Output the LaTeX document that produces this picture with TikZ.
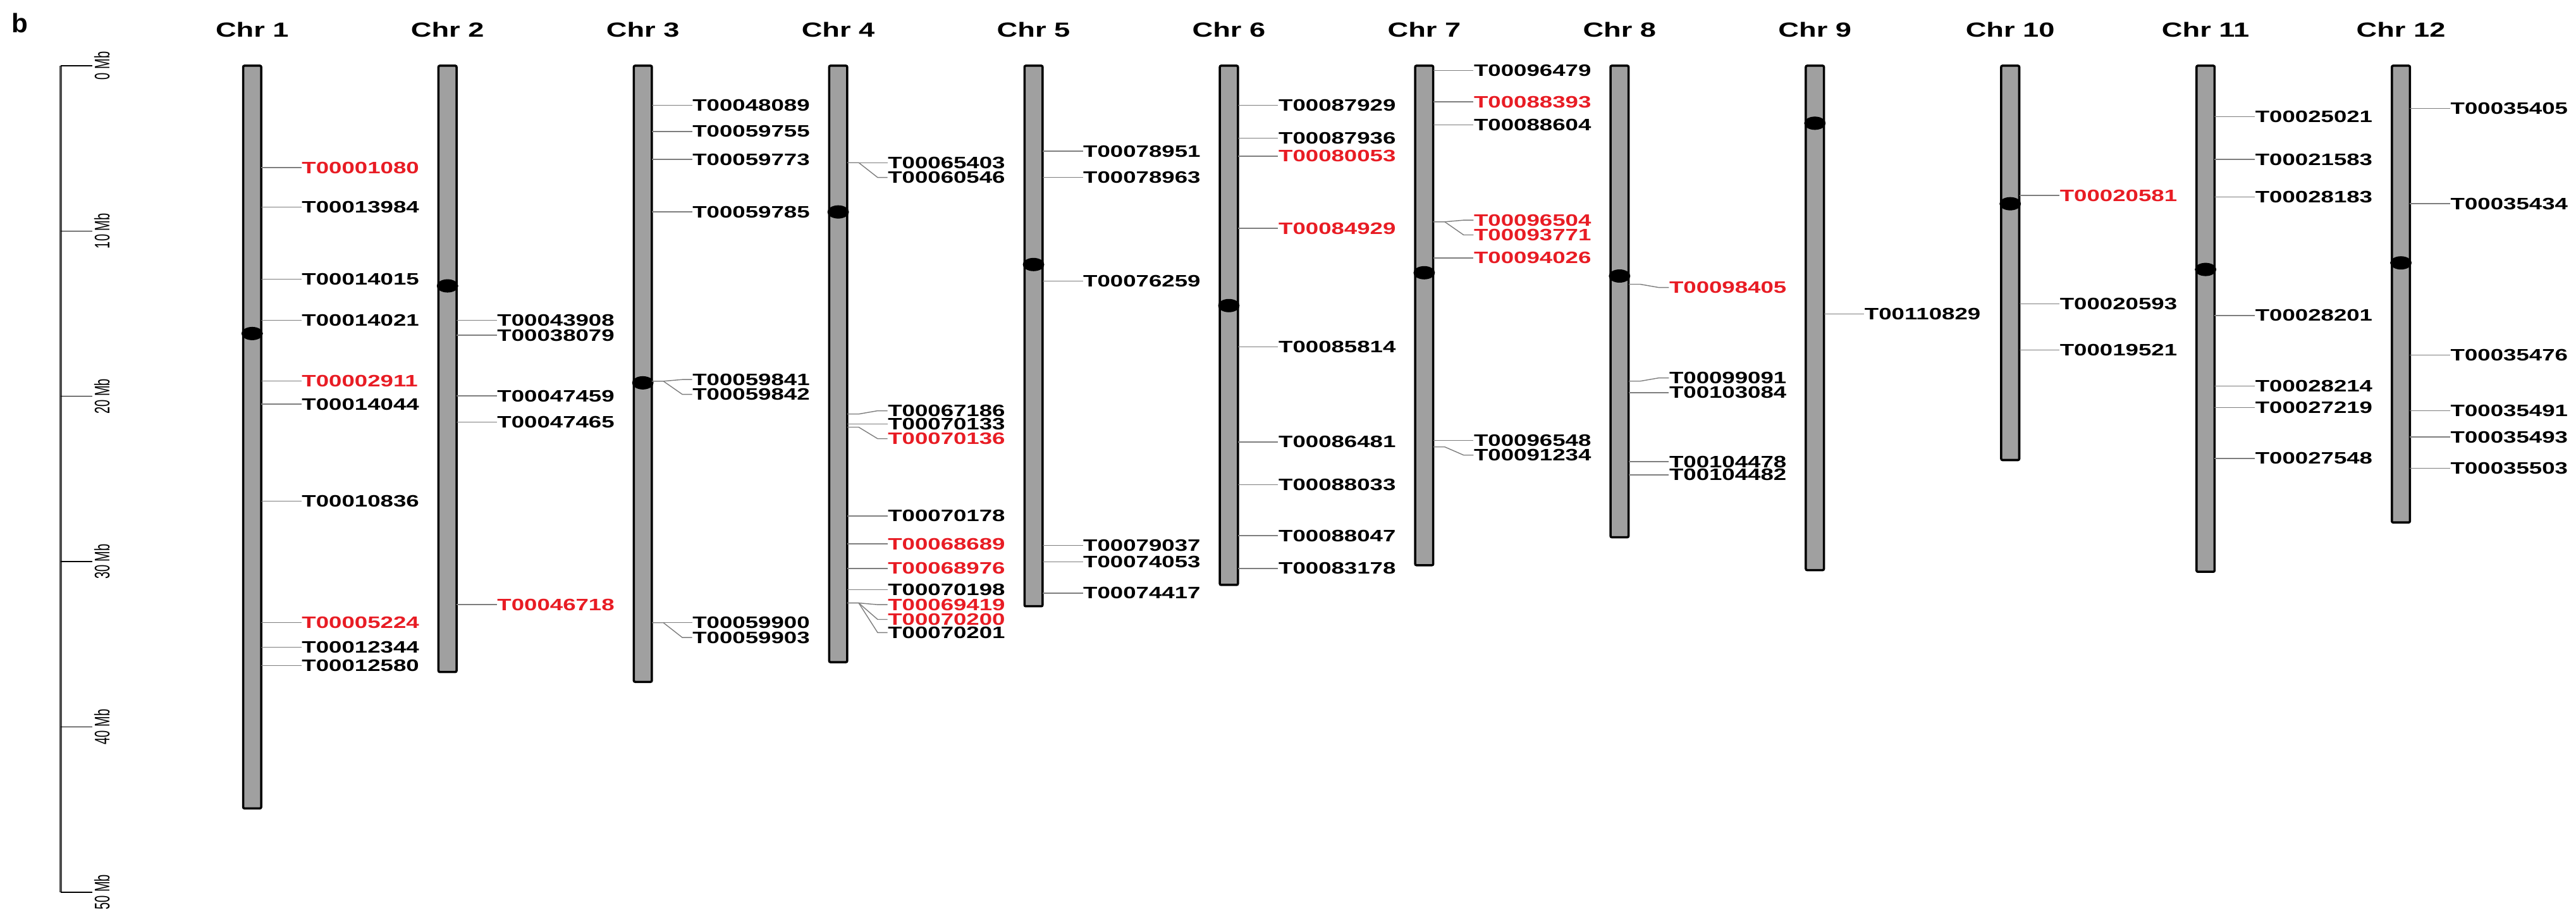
\documentclass[tikz,border=0pt]{standalone}
\usepackage{fontspec}
\newfontfamily\genefont[FakeStretch=1.4]{Liberation Sans}
\newfontfamily\axisfont[FakeStretch=0.6]{Liberation Sans}
\newfontfamily\panelfont{Liberation Sans}
\usetikzlibrary{calc}

\definecolor{hlred}{RGB}{232,28,36}
\definecolor{chrgray}{RGB}{160,160,160}
\definecolor{linkgray}{RGB}{125,125,125}

\begin{document}
\begin{tikzpicture}[x=0.026cm, y=-0.026cm,
    every node/.style={inner sep=0pt},
    chrbar/.style={draw=black, line width=1pt, fill=chrgray, rounded corners=0.6pt},
    centro/.style={fill=black},
    gene/.style={anchor=west, font=\genefont\bfseries\fontsize{7.45}{8}\selectfont},
    link/.style={draw=linkgray, line width=0.4pt},
    chrtitle/.style={font=\genefont\bfseries\fontsize{9.2}{10}\selectfont},
    mblabel/.style={rotate=90, font=\axisfont\fontsize{9.5}{10}\selectfont}]

\useasboundingbox (0,0) rectangle (1568,561);

% panel letter
\node[font=\panelfont\bfseries\fontsize{12}{13}\selectfont] (panel) at (12,14) {b};

% Mb scale on the left
\coordinate (ax-top) at (37,40);
\coordinate (ax-bot) at (37,543);
\draw[line width=1.2pt, gray!60!black] (ax-top) -- (ax-bot);
\foreach \m in {0,10,...,50} {
    \coordinate (tick-\m) at (37,40+10.06*\m);
    \draw[line width=0.4pt] (tick-\m) -- ++(19,0);
    \node[mblabel] (mb-\m) at (62,40+10.06*\m) {\m\ Mb};
}

% Chromosomes: number / bottom end / centromere
\foreach \n/\bot/\cen in {1/492/203, 2/409/174, 3/415/233, 4/403/129,
    5/369/161, 6/356/186, 7/344/166, 8/327/168, 9/347/75, 10/280/124,
    11/348/164, 12/318/160} {
    \pgfmathsetmacro\cx{153.5+118.9*(\n-1)}
    \node[chrtitle] (title-\n) at (\cx,18) {Chr \n};
    \draw[chrbar] (\cx-5.5,40) rectangle (\cx+5.5,\bot);
    \fill[centro] (\cx,\cen) ellipse [x radius=0.17cm, y radius=0.105cm];
}

% Genes: chromosome / position on bar / label height / id / colour
\foreach \n/\by/\ly/\gid/\col in {
    1/102/102/T00001080/hlred, 1/126/126/T00013984/black, 1/170/170/T00014015/black,
    1/195/195/T00014021/black, 1/232/232/T00002911/hlred, 1/246/246/T00014044/black,
    1/305/305/T00010836/black, 1/379/379/T00005224/hlred, 1/394/394/T00012344/black,
    1/405/405/T00012580/black,
    2/195/195/T00043908/black, 2/204/204/T00038079/black, 2/241/241/T00047459/black,
    2/257/257/T00047465/black, 2/368/368/T00046718/hlred,
    3/64/64/T00048089/black, 3/80/80/T00059755/black, 3/97/97/T00059773/black,
    3/129/129/T00059785/black, 3/232/231/T00059841/black, 3/232/240/T00059842/black,
    3/379/379/T00059900/black, 3/379/388/T00059903/black,
    4/99/99/T00065403/black, 4/99/108/T00060546/black, 4/252/250/T00067186/black,
    4/258/258/T00070133/black, 4/260/267/T00070136/hlred, 4/314/314/T00070178/black,
    4/331/331/T00068689/hlred, 4/346/346/T00068976/hlred, 4/359/359/T00070198/black,
    4/367/368/T00069419/hlred, 4/367/377/T00070200/hlred, 4/367/385/T00070201/black,
    5/92/92/T00078951/black, 5/108/108/T00078963/black, 5/171/171/T00076259/black,
    5/332/332/T00079037/black, 5/342/342/T00074053/black, 5/361/361/T00074417/black,
    6/64/64/T00087929/black, 6/84/84/T00087936/black, 6/95/95/T00080053/hlred,
    6/139/139/T00084929/hlred, 6/211/211/T00085814/black, 6/269/269/T00086481/black,
    6/295/295/T00088033/black, 6/326/326/T00088047/black, 6/346/346/T00083178/black,
    7/43/43/T00096479/black, 7/62/62/T00088393/hlred, 7/76/76/T00088604/black,
    7/135/134/T00096504/hlred, 7/135/143/T00093771/hlred, 7/157/157/T00094026/hlred,
    7/268/268/T00096548/black, 7/272/277/T00091234/black,
    8/173/175/T00098405/hlred, 8/232/230/T00099091/black, 8/239/239/T00103084/black,
    8/281/281/T00104478/black, 8/289/289/T00104482/black,
    9/191/191/T00110829/black,
    10/119/119/T00020581/hlred, 10/185/185/T00020593/black, 10/213/213/T00019521/black,
    11/71/71/T00025021/black, 11/97/97/T00021583/black, 11/120/120/T00028183/black,
    11/192/192/T00028201/black, 11/235/235/T00028214/black, 11/248/248/T00027219/black,
    11/279/279/T00027548/black,
    12/66/66/T00035405/black, 12/124/124/T00035434/black, 12/216/216/T00035476/black,
    12/250/250/T00035491/black, 12/266/266/T00035493/black, 12/285/285/T00035503/black} {
    \pgfmathsetmacro\cx{153.5+118.9*(\n-1)}
    \coordinate (on-\gid) at (\cx+5.5,\by);
    \node[gene, text=\col] (\gid) at (\cx+30,\ly) {\gid};
    \draw[link] (on-\gid) -- ++(7,0) -- ($(\gid.west)+(-6,0)$) -- (\gid.west);
}
\end{tikzpicture}
\end{document}
